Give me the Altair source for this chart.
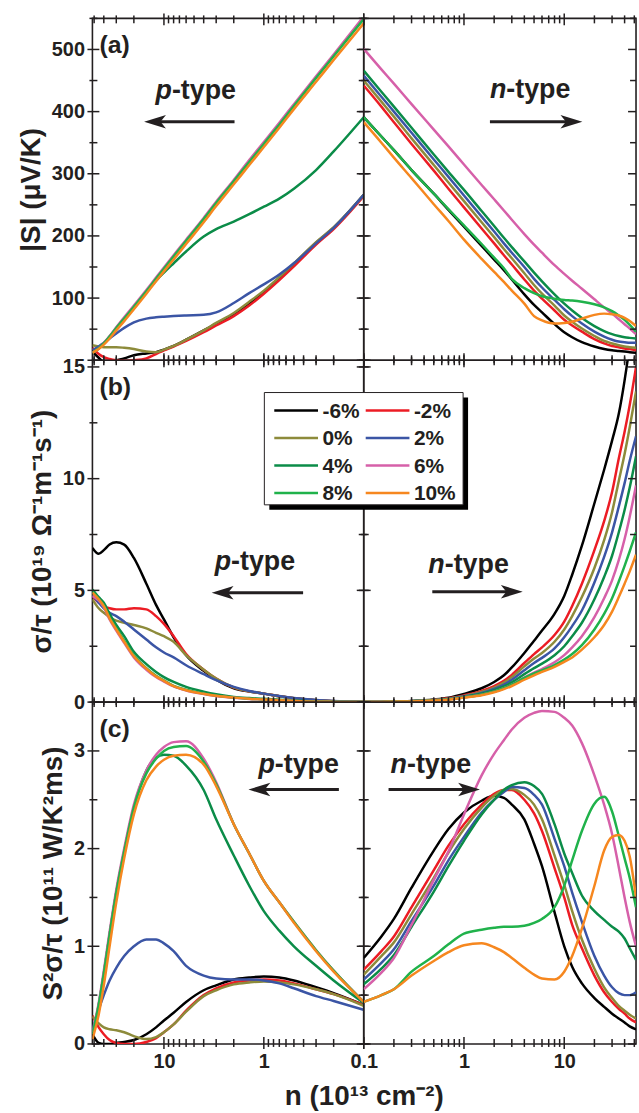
import altair as alt
import pandas as pd

FONT = "Liberation Sans"
INK = "#231f20"

SERIES = ["-6%", "-2%", "0%", "2%", "4%", "6%", "8%", "10%"]
COLORS = ["#000000", "#ec1c24", "#8d8b3b", "#3b55a5", "#0b8c48", "#d660a9", "#20b24b", "#f6871f"]

# carrier density grids (10^13 cm^-2)
NP = [52, 45, 40, 35, 30, 25, 20, 15, 12, 10, 8, 6, 4, 3, 2, 1.4, 1, 0.7, 0.5, 0.3, 0.2, 0.1]
NN = [0.1, 0.15, 0.2, 0.3, 0.5, 0.7, 1, 1.5, 2, 2.5, 3, 4, 5, 6, 8, 10, 12, 15, 20, 25, 30, 35, 40, 45, 52]

# (a) |S| (uV/K)
A_P = {
    "-6%": [14, 4, -3, -3, 0, 3, 8, 11, 13, 17, 23, 33, 48, 59, 74, 91, 110, 132, 154, 189, 213, 266],
    "-2%": [20, 10, 5, 2, 0, -1, 0, 3, 10, 16, 22, 31, 45, 56, 71, 88, 107, 129, 151, 186, 211, 264],
    "0%": [24, 22, 21, 21, 21, 20, 18, 14, 13, 17, 23, 33, 48, 60, 76, 94, 112, 134, 156, 190, 214, 266],
    "2%": [16, 22, 28, 35, 43, 52, 61, 67, 69, 70, 71, 72, 73, 77, 92, 108, 122, 138, 156, 188, 213, 266],
    "4%": [12, 19, 27, 38, 52, 67, 86, 110, 128, 141, 156, 175, 199, 211, 223, 235, 247, 260, 276, 306, 336, 391],
    "6%": [12, 19, 28, 39, 53, 69, 88, 113, 133, 149, 169, 194, 229, 255, 290, 322, 351, 382, 412, 457, 492, 553],
    "8%": [12, 19, 27, 38, 52, 67, 86, 111, 131, 147, 167, 192, 227, 253, 288, 319, 348, 379, 409, 454, 489, 549],
    "10%": [12, 18, 25, 35, 48, 63, 82, 107, 127, 143, 162, 187, 222, 248, 283, 314, 343, 374, 404, 448, 483, 542],
}
A_N = {
    "-6%": [391, 360, 338, 306, 268, 242, 215, 184, 162, 145, 130, 106, 89, 77, 58, 45, 37, 29, 22, 18, 16, 15, 14, 13, 12],
    "-2%": [442, 408, 383, 348, 305, 276, 246, 212, 188, 169, 154, 130, 112, 99, 80, 65, 56, 46, 34, 27, 23, 21, 19, 18, 16],
    "0%": [450, 416, 392, 357, 314, 286, 256, 222, 198, 179, 164, 140, 121, 107, 88, 72, 62, 51, 39, 31, 27, 24, 22, 21, 20],
    "2%": [458, 424, 400, 366, 323, 295, 265, 231, 207, 188, 173, 150, 131, 117, 97, 82, 71, 59, 46, 38, 33, 30, 29, 28, 28],
    "4%": [466, 432, 408, 374, 331, 303, 274, 240, 216, 197, 182, 159, 141, 127, 106, 91, 80, 68, 55, 47, 42, 39, 37, 36, 35],
    "6%": [501, 468, 445, 412, 371, 344, 315, 282, 259, 241, 226, 203, 186, 173, 153, 139, 128, 115, 98, 85, 75, 66, 58, 51, 42],
    "8%": [391, 360, 338, 306, 268, 243, 217, 187, 165, 148, 131, 116, 108, 103, 99, 97, 96, 94, 90, 85, 79, 72, 65, 57, 46],
    "10%": [383, 350, 326, 293, 251, 224, 194, 163, 142, 126, 112, 91, 71, 64, 59, 60, 62, 67, 73, 75, 74, 72, 68, 63, 55],
}

# (b) sigma/tau (10^19 Ohm^-1 m^-1 s^-1)
B_P = {
    "-6%": [6.9, 6.64, 6.8, 7.05, 7.15, 7.05, 6.45, 5.3, 4.35, 3.7, 2.9, 2.1, 1.4, 1.0, 0.62, 0.47, 0.38, 0.26, 0.17, 0.08, 0.04, 0.01],
    "-2%": [4.75, 4.45, 4.3, 4.2, 4.15, 4.15, 4.2, 4.15, 3.85, 3.5, 2.95, 2.15, 1.45, 1.05, 0.65, 0.48, 0.38, 0.26, 0.17, 0.08, 0.04, 0.01],
    "0%": [4.6, 4.2, 4.0, 3.8, 3.65, 3.55, 3.45, 3.3, 3.1, 2.95, 2.7, 2.1, 1.45, 1.05, 0.66, 0.48, 0.38, 0.26, 0.17, 0.08, 0.04, 0.01],
    "2%": [4.8, 4.45, 4.2, 4.0, 3.85, 3.6, 3.25, 2.8, 2.45, 2.22, 2.0, 1.65, 1.25, 0.98, 0.68, 0.5, 0.38, 0.27, 0.18, 0.09, 0.05, 0.02],
    "4%": [5.04, 4.7, 4.45, 3.95, 3.45, 2.95, 2.25, 1.7, 1.35, 1.12, 0.9, 0.68, 0.47, 0.35, 0.23, 0.18, 0.15, 0.1, 0.07, 0.03, 0.02, 0.0],
    "6%": [4.75, 4.55, 4.25, 3.7, 3.2, 2.65, 2.0, 1.45, 1.12, 0.92, 0.7, 0.52, 0.36, 0.27, 0.19, 0.14, 0.11, 0.07, 0.05, 0.02, 0.01, 0.0],
    "8%": [4.95, 4.62, 4.32, 3.78, 3.3, 2.75, 2.08, 1.52, 1.18, 0.97, 0.73, 0.55, 0.38, 0.29, 0.2, 0.15, 0.12, 0.08, 0.05, 0.02, 0.01, 0.0],
    "10%": [4.9, 4.6, 4.3, 3.75, 3.25, 2.7, 2.05, 1.5, 1.15, 0.95, 0.71, 0.53, 0.37, 0.28, 0.2, 0.15, 0.12, 0.08, 0.05, 0.02, 0.01, 0.0],
}
B_N = {
    "-6%": [0.0, 0.01, 0.02, 0.05, 0.12, 0.2, 0.37, 0.62, 0.9, 1.2, 1.55, 2.2, 2.75, 3.2, 3.95, 4.75, 5.7, 7.0, 8.9, 10.4, 11.7, 12.9, 14.4, 16.0, 18.5],
    "-2%": [0.0, 0.01, 0.02, 0.04, 0.1, 0.17, 0.3, 0.5, 0.72, 0.95, 1.22, 1.75, 2.15, 2.45, 3.0, 3.6, 4.3, 5.3, 6.8, 8.1, 9.4, 10.9, 12.1, 13.3, 15.0],
    "0%": [0.0, 0.01, 0.02, 0.04, 0.09, 0.15, 0.27, 0.45, 0.65, 0.87, 1.12, 1.6, 1.95, 2.2, 2.7, 3.25, 3.85, 4.7, 6.0, 7.25, 8.5, 9.9, 11.1, 12.3, 13.9],
    "2%": [0.0, 0.01, 0.02, 0.04, 0.09, 0.14, 0.25, 0.41, 0.59, 0.78, 1.0, 1.43, 1.75, 1.98, 2.4, 2.9, 3.4, 4.1, 5.35, 6.5, 7.6, 8.75, 9.8, 10.8, 11.9],
    "4%": [0.0, 0.01, 0.02, 0.04, 0.08, 0.13, 0.23, 0.37, 0.53, 0.7, 0.88, 1.25, 1.52, 1.72, 2.1, 2.5, 2.95, 3.55, 4.6, 5.6, 6.55, 7.6, 8.6, 9.6, 11.0],
    "6%": [0.0, 0.01, 0.02, 0.03, 0.08, 0.12, 0.21, 0.33, 0.47, 0.62, 0.78, 1.1, 1.32, 1.48, 1.78, 2.1, 2.45, 2.95, 3.8, 4.65, 5.45, 6.35, 7.3, 8.3, 9.7],
    "8%": [0.0, 0.01, 0.02, 0.03, 0.08, 0.12, 0.21, 0.33, 0.47, 0.62, 0.78, 1.08, 1.28, 1.42, 1.66, 1.9, 2.15, 2.55, 3.25, 3.95, 4.65, 5.4, 6.1, 6.75, 7.6],
    "10%": [0.0, 0.01, 0.02, 0.03, 0.07, 0.11, 0.2, 0.31, 0.44, 0.58, 0.72, 1.0, 1.2, 1.35, 1.58, 1.8, 2.0, 2.35, 2.9, 3.45, 4.05, 4.7, 5.3, 5.85, 6.6],
}

# (c) S^2 sigma/tau (10^11 W/K^2 m s)
C_P = {
    "-6%": [0.1, 0.01, 0.0, 0.0, 0.01, 0.02, 0.04, 0.1, 0.17, 0.24, 0.32, 0.43, 0.55, 0.6, 0.66, 0.68, 0.69, 0.68, 0.65, 0.58, 0.52, 0.4],
    "-2%": [0.29, 0.17, 0.1, 0.04, 0.01, 0.0, 0.0, 0.02, 0.06, 0.12, 0.2, 0.34, 0.5, 0.57, 0.63, 0.65, 0.66, 0.65, 0.62, 0.56, 0.51, 0.4],
    "0%": [0.28, 0.21, 0.17, 0.15, 0.14, 0.12, 0.08, 0.05, 0.07, 0.12, 0.2, 0.33, 0.49, 0.55, 0.61, 0.63, 0.64, 0.63, 0.61, 0.56, 0.51, 0.39],
    "2%": [0.15, 0.35, 0.5, 0.65, 0.78, 0.9, 1.0, 1.07, 1.07, 1.03, 0.95, 0.8, 0.7, 0.67, 0.66, 0.66, 0.65, 0.62, 0.57, 0.49, 0.44, 0.35],
    "4%": [0.1, 0.4, 0.72, 1.12, 1.55, 1.97, 2.42, 2.8, 2.93, 2.96, 2.95, 2.85, 2.6, 2.3, 1.93, 1.62, 1.36, 1.16, 1.0, 0.8, 0.65, 0.42],
    "6%": [0.12, 0.42, 0.75, 1.15, 1.58, 2.0, 2.45, 2.8, 2.96, 3.04, 3.09, 3.1, 2.92, 2.68, 2.25, 1.95, 1.67, 1.45, 1.25, 0.96, 0.75, 0.43],
    "8%": [0.1, 0.4, 0.72, 1.12, 1.55, 1.97, 2.42, 2.77, 2.92, 3.0, 3.04, 3.05, 2.89, 2.66, 2.25, 1.95, 1.67, 1.45, 1.25, 0.96, 0.75, 0.43],
    "10%": [0.05, 0.3, 0.6, 1.0, 1.45, 1.9, 2.35, 2.7, 2.84, 2.91, 2.95, 2.96, 2.86, 2.64, 2.25, 1.95, 1.67, 1.45, 1.24, 0.95, 0.74, 0.43],
}
C_N = {
    "-6%": [0.88, 1.1, 1.28, 1.6, 1.98, 2.2, 2.37, 2.49, 2.54, 2.52, 2.45, 2.3, 2.05, 1.82, 1.35, 1.0, 0.79, 0.62, 0.47, 0.38, 0.31, 0.26, 0.22, 0.18, 0.15],
    "-2%": [0.76, 0.95, 1.1, 1.4, 1.78, 2.03, 2.25, 2.45, 2.56, 2.6, 2.6, 2.5, 2.36, 2.18, 1.8, 1.5, 1.22, 0.98, 0.7, 0.53, 0.43, 0.36, 0.31, 0.26, 0.22],
    "0%": [0.71, 0.9, 1.04, 1.33, 1.7, 1.96, 2.2, 2.42, 2.54, 2.6, 2.61, 2.55, 2.45, 2.3, 1.93, 1.63, 1.36, 1.07, 0.77, 0.58, 0.47, 0.39, 0.34, 0.3, 0.26],
    "2%": [0.66, 0.83, 0.97, 1.26, 1.62, 1.88, 2.12, 2.37, 2.5, 2.58, 2.63, 2.62, 2.55, 2.45, 2.1, 1.82, 1.55, 1.25, 0.9, 0.7, 0.58, 0.52, 0.5, 0.5, 0.53],
    "4%": [0.61, 0.77, 0.91, 1.2, 1.56, 1.82, 2.08, 2.35, 2.5, 2.6, 2.65, 2.68, 2.64, 2.56, 2.25, 1.95, 1.75, 1.52, 1.36, 1.27, 1.2, 1.15, 1.08, 0.98, 0.86],
    "6%": [0.56, 0.73, 0.88, 1.22, 1.68, 1.97, 2.35, 2.75, 2.97, 3.11, 3.22, 3.34, 3.39, 3.41, 3.4, 3.34, 3.26, 3.08, 2.75, 2.45, 2.15, 1.81, 1.5, 1.25, 1.0],
    "8%": [0.43, 0.5, 0.56, 0.74, 0.9, 1.02, 1.13, 1.17, 1.19, 1.2, 1.2, 1.21, 1.24, 1.28, 1.4, 1.62, 1.88, 2.18, 2.46, 2.53, 2.38, 2.13, 1.9, 1.7, 1.4],
    "10%": [0.43, 0.5, 0.56, 0.7, 0.85, 0.94, 1.01, 1.03, 0.99, 0.94, 0.88, 0.78, 0.71, 0.67, 0.66, 0.74, 0.9, 1.18, 1.62, 1.98, 2.12, 2.14, 2.08, 1.92, 1.5],
}

X_MAJOR = [0.1, 1, 10]
X_MINOR = [0.2, 0.3, 0.4, 0.5, 0.6, 0.7, 0.8, 0.9, 2, 3, 4, 5, 6, 7, 8, 9, 20, 30, 40, 50]
XDOM = [0.1, 52]
XTITLE = "n (10¹³ cm⁻²)"

YDOM = {"a": [0, 550], "b": [0, 15.3], "c": [0, 3.5]}
Y_MAJOR = {"a": [0, 100, 200, 300, 400, 500], "b": [0, 5, 10, 15], "c": [0, 1, 2, 3]}
Y_MINOR = {"a": [50, 150, 250, 350, 450, 550], "b": [2.5, 7.5, 12.5], "c": [0.5, 1.5, 2.5, 3.5]}
YLAB = {"a": "datum.value === 0 ? '' : '' + datum.value",
        "b": "'' + datum.value",
        "c": "'' + datum.value"}
YTITLE = {"a": "|S| (μV/K)", "b": "σ/τ (10¹⁹ Ω⁻¹m⁻¹s⁻¹)", "c": "S²σ/τ (10¹¹ W/K²ms)"}
PANEL_LABEL = {"a": "(a)", "b": "(b)", "c": "(c)"}

W = {"p": 273, "n": 274}
H = {"a": 344, "b": 344, "c": 344}

# annotation placement inside each panel (pixels of that panel)
ANN = {
    ("a", "p"): dict(split=80, base=81, ax0=52, ax1=143, ay=104),
    ("a", "n"): dict(split=143.5, base=80, ax0=127, ax1=220, ay=104),
    ("b", "p"): dict(split=139.5, base=211, ax0=120, ax1=212, ay=234),
    ("b", "n"): dict(split=81.5, base=214, ax0=69, ax1=160, ay=233),
    ("c", "p"): dict(split=183.5, base=71, ax0=157, ax1=248, ay=88),
    ("c", "n"): dict(split=43.5, base=71, ax0=25, ax1=117, ay=88),
}

ONE = pd.DataFrame({"k": [0]})
HEAD_L = "M-1,0L1,-0.62L0.5,0L1,0.62Z"
HEAD_R = "M1,0L-1,-0.62L-0.5,0L-1,0.62Z"
HEAD = 22
# tick marks cross the frame: (outside, inside) lengths in px
MAJ = (5, 7)
MIN = (3, 5)


def long_df(grid, table):
    rows = []
    for s in SERIES:
        for n, v in zip(grid, table[s]):
            rows.append({"n": n, "v": v, "s": s})
    return pd.DataFrame(rows)


def txt(text, x, y, size, align="left", italic=False, baseline="alphabetic"):
    return alt.Chart(ONE).mark_text(
        text=text, font=FONT, fontSize=size, fontWeight="bold",
        fontStyle="italic" if italic else "normal", align=align,
        baseline=baseline, color=INK,
    ).encode(x=alt.value(x), y=alt.value(y))


def arrow(x0, x1, y, head):
    if head == "left":
        rule = alt.Chart(ONE).mark_rule(color=INK, strokeWidth=3).encode(
            x=alt.value(x0 + HEAD * 0.6), x2=alt.value(x1), y=alt.value(y))
        pt = alt.Chart(ONE).mark_point(shape=HEAD_L, size=HEAD * HEAD, filled=True,
                                       color=INK, opacity=1).encode(
            x=alt.value(x0 + HEAD / 2), y=alt.value(y))
    else:
        rule = alt.Chart(ONE).mark_rule(color=INK, strokeWidth=3).encode(
            x=alt.value(x0), x2=alt.value(x1 - HEAD * 0.6), y=alt.value(y))
        pt = alt.Chart(ONE).mark_point(shape=HEAD_R, size=HEAD * HEAD, filled=True,
                                       color=INK, opacity=1).encode(
            x=alt.value(x1 - HEAD / 2), y=alt.value(y))
    return [rule, pt]


def legend_layers():
    x0, dx, y0, dy = -90, 92, 50.5, 27.7
    out = [
        alt.Chart(ONE).mark_rect(color="black").encode(
            x=alt.value(-95), x2=alt.value(105), y=alt.value(37.5), y2=alt.value(150.5)),
        alt.Chart(ONE).mark_rect(fill="white", stroke=INK, strokeWidth=1).encode(
            x=alt.value(-100), x2=alt.value(100), y=alt.value(32.5), y2=alt.value(145.5)),
    ]
    for i, (s, c) in enumerate(zip(SERIES, COLORS)):
        cx = x0 + (i % 2) * dx
        cy = y0 + (i // 2) * dy
        out.append(alt.Chart(ONE).mark_rule(color=c, strokeWidth=2.5).encode(
            x=alt.value(cx), x2=alt.value(cx + 44), y=alt.value(cy)))
        out.append(txt(s, cx + 48.5, cy + 7.5, 21))
    return out


def xtick_layer(values, xs, y0, y1):
    return alt.Chart(pd.DataFrame({"t": values})).mark_rule(color=INK, strokeWidth=1.5).encode(
        x=alt.X("t:Q", scale=xs, axis=None), y=alt.value(y0), y2=alt.value(y1))


def ytick_layer(values, ys, x0, x1):
    return alt.Chart(pd.DataFrame({"t": values})).mark_rule(color=INK, strokeWidth=1.5).encode(
        y=alt.Y("t:Q", scale=ys, axis=None), x=alt.value(x0), x2=alt.value(x1))


def panel(row, side, table):
    grid = NP if side == "p" else NN
    df = long_df(grid, table)
    w, h = W[side], H[row]
    xs = alt.Scale(type="log", domain=XDOM, reverse=(side == "p"), nice=False)
    ys = alt.Scale(domain=YDOM[row], nice=False, zero=False)

    if row == "c":
        if side == "p":
            xlab = "datum.value === 0.1 ? '' : datum.value === 1 ? '1' : '10'"
        else:
            xlab = "datum.value === 0.1 ? '0.1' : datum.value === 1 ? '1' : '10'"
        xb = dict(orient="bottom", values=X_MAJOR, ticks=False, labelExpr=xlab,
                  labelPadding=8, labelFlush=False, labelOverlap=False, title=None)
        if side == "p":
            xb.update(title=XTITLE, titleX=273, titleY=61, titleAlign="center",
                      titleBaseline="alphabetic", titleFontSize=28)
        xaxis = alt.Axis(**xb)
    else:
        xaxis = None
    if side == "p":
        yaxis = alt.Axis(orient="left", values=Y_MAJOR[row], ticks=False, labelExpr=YLAB[row],
                         labelPadding=8, labelOverlap=False, title=YTITLE[row], titlePadding=6)
    else:
        yaxis = None

    color = alt.Color("s:N", scale=alt.Scale(domain=SERIES, range=COLORS), legend=None)
    lines = alt.Chart(df).mark_line(strokeWidth=2.5, clip=True, interpolate="monotone").encode(
        x=alt.X("n:Q", scale=xs, axis=xaxis),
        y=alt.Y("v:Q", scale=ys, axis=yaxis),
        color=color,
    )

    layers = [lines]
    for vals, (o, i) in [(X_MAJOR, MAJ), (X_MINOR, MIN)]:
        layers.append(xtick_layer(vals, xs, h - i, h + o))   # bottom
        layers.append(xtick_layer(vals, xs, -o, i))          # top
    for vals, (o, i) in [(Y_MAJOR[row], MAJ), (Y_MINOR[row], MIN)]:
        layers.append(ytick_layer(vals, ys, -o, i))          # left
        if side == "n":
            layers.append(ytick_layer(vals, ys, w - i - 1, w))   # outer right edge: inward only
        else:
            layers.append(ytick_layer(vals, ys, w - i, w + o))

    a = ANN[(row, side)]
    letter = "p" if side == "p" else "n"
    layers.append(txt(letter, a["split"], a["base"], 27, align="right", italic=True))
    layers.append(txt("-type", a["split"], a["base"], 27, align="left"))
    layers += arrow(a["ax0"], a["ax1"], a["ay"], "left" if side == "p" else "right")
    if side == "p":
        layers.append(txt(PANEL_LABEL[row], 7, 35, 25))
    if row == "b" and side == "n":
        layers += legend_layers()
    return alt.layer(*layers).resolve_axis(x="independent", y="independent").properties(
        width=w, height=h)


cells = []
for r, tp, tn in [("a", A_P, A_N), ("b", B_P, B_N), ("c", C_P, C_N)]:
    cells.append(panel(r, "p", tp))
    cells.append(panel(r, "n", tn))

chart = alt.concat(*cells, columns=2, spacing=0, bounds="flush").properties(
    padding={"left": 16, "top": 8, "right": 1, "bottom": 1}
).configure_view(
    stroke=INK, strokeWidth=1.6
).configure_axis(
    grid=False, domain=False,
    labelFont=FONT, labelFontSize=20, labelFontWeight="bold", labelColor=INK,
    titleFont=FONT, titleFontSize=28, titleFontWeight="bold", titleColor=INK,
)

chart.save("out.html", embed_options={"renderer": "svg", "actions": False})
